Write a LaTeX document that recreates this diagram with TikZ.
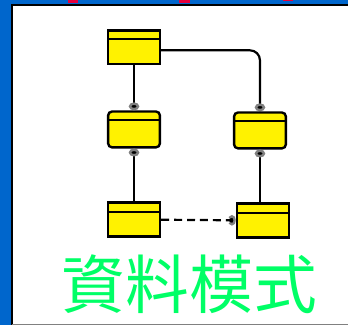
\documentclass[tikz,border=0pt]{standalone}
\usepackage{fontspec}
\newfontfamily\cjkfont{Noto Sans CJK TC}
\usetikzlibrary{
  positioning,
  shapes.geometric
}
\definecolor{slideblue}{RGB}{0,102,204}
\definecolor{titlered}{RGB}{230,0,60}
\definecolor{entitygreen}{RGB}{0,255,102}

\begin{document}
\begin{tikzpicture}[
    x=1pt, y=1pt,
    entity/.style={
        rectangle,
        draw=black,
        line width=2.4pt,
        fill=yellow,
        minimum width=52pt,
        minimum height=34pt,
        inner sep=0pt,
        path picture={
            \draw[line width=2pt]
              ([yshift=-9pt]path picture bounding box.north west) --
              ([yshift=-9pt]path picture bounding box.north east);
        }
    },
    roundentity/.style={
        entity,
        rounded corners=4pt,
        minimum height=36pt
    },
    link/.style={line width=2.2pt, draw=black},
    dotmark/.style={
        ellipse,
        fill=black,
        draw=gray,
        line width=2.4pt,
        minimum width=8pt,
        minimum height=5.5pt,
        inner sep=0pt
    }
]

% Slide background
\fill[slideblue] (0,0) rectangle (349,-326);
\fill[white] (12,-5) rectangle (349,-326);
\draw[line width=2.5pt] (12,-326) -- (12,-5) -- (349,-5);
\draw[gray, line width=1pt] (12,-325.5) -- (349,-325.5);

% Cut-off title
\fill[titlered] (68,0) rectangle (78,-3.3);
\fill[titlered] (180,0) rectangle (190.5,-3.3);
\fill[titlered] (284,0) rectangle (294.5,-1.5);

% Entities
\node[entity] (top) at (134.5,-47.5) {};
\node[roundentity, below=45pt of top] (midleft) {};
\node[roundentity, right=72pt of midleft, yshift=-1pt] (midright) {};
\node[entity, below=53pt of midleft] (botleft) {};
\node[entity, below=53pt of midright, xshift=3pt] (botright) {};

% Relationships
\draw[link] (top) -- node[dotmark, pos=1, anchor=south] {} (midleft);
\draw[link, rounded corners=10pt] ([yshift=-3pt]top.east) -|
    node[dotmark, pos=1, anchor=south] {} (midright);
\draw[link] (botleft) -- node[dotmark, pos=1, anchor=north] {} (midleft);
\draw[link] (midright.south |- botright.north) --
    node[dotmark, pos=1, anchor=north] {} (midright.south);
\draw[link, dash pattern=on 8pt off 5pt] (botleft) --
    node[dotmark, pos=1, anchor=east, minimum width=5.5pt,
         minimum height=8pt] {} (botright);

% Caption
\node[text=entitygreen, font=\cjkfont\fontsize{64}{64}\selectfont] (caption)
    at (190,-285) {資料模式};

\end{tikzpicture}
\end{document}
